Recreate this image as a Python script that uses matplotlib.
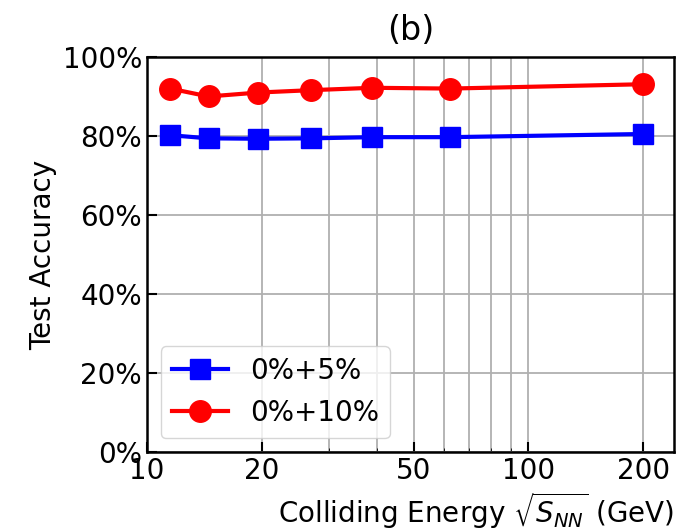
import numpy as np
import matplotlib.pyplot as plt
from matplotlib.ticker import PercentFormatter, FixedLocator, NullFormatter

energy = [11.5, 14.5, 19.6, 27, 39, 62.4, 200]
acc_5 = [80.2, 79.4, 79.3, 79.4, 79.7, 79.7, 80.5]
acc_10 = [92.0, 90.0, 91.0, 91.6, 92.2, 92.0, 93.1]
xticks = [10, 20, 50, 100, 200]

fig = plt.figure(figsize=(6.92, 5.30), dpi=100)
ax = fig.add_axes([0.2124, 0.1472, 0.7616, 0.7453])

ax.plot(energy, acc_5, 's-', color='blue', lw=3, ms=15, label='0%+5%')
ax.plot(energy, acc_10, 'o-', color='red', lw=3, ms=15.5, label='0%+10%')

ax.set_xscale('log')
ax.set_xlim(10, 241)
ax.set_ylim(0, 100)
ax.xaxis.set_major_locator(FixedLocator(xticks))
ax.set_xticklabels([str(t) for t in xticks])
ax.xaxis.set_minor_formatter(NullFormatter())
ax.set_yticks(np.arange(0, 101, 20))
ax.yaxis.set_major_formatter(PercentFormatter(decimals=0))

ax.tick_params(which='both', direction='in', labelsize=20)
ax.tick_params(which='major', length=7, width=1.5)
ax.tick_params(which='minor', length=3)
ax.grid(True, which='both', axis='x', color='#b0b0b0', lw=1.3)
ax.grid(True, which='major', axis='y', color='#b0b0b0', lw=1.3)
for s in ax.spines.values():
    s.set_linewidth(1.8)

ax.set_xlabel(r'Colliding Energy $\sqrt{S_{NN}}$ (GeV)', fontsize=20, loc='right')
ax.set_ylabel('Test Accuracy', fontsize=20)
ax.set_title('(b)', fontsize=24, pad=12)
ax.legend(loc='lower left', fontsize=20)

fig.savefig('out.png')
